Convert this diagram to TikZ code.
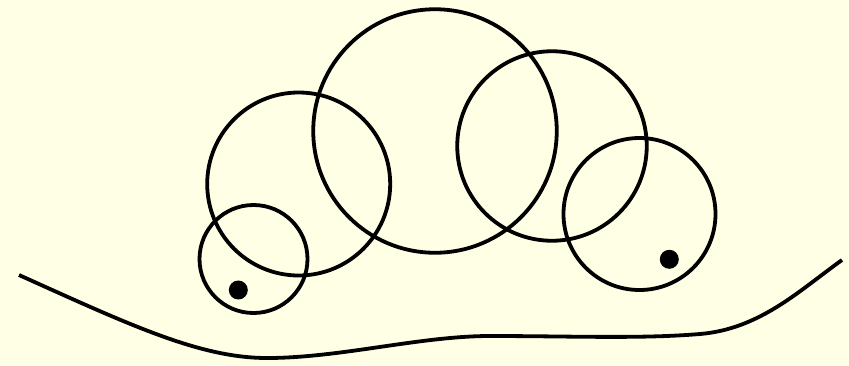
\documentclass[tikz,border=0pt]{standalone}
\definecolor{bgyellow}{HTML}{FFFFE6}
\begin{document}
\begin{tikzpicture}[x=1pt,y=-1pt,
  ring/.style={circle, draw=black, line width=3.8pt, inner sep=0pt, outer sep=0pt},
  dot/.style={circle, fill=black, inner sep=0pt, minimum size=19pt},
  ground/.style={draw=black, line width=3.8pt}]
\fill[bgyellow] (0,0) rectangle (849,365);
\useasboundingbox (0,0) rectangle (849,365);
\node[ring, minimum size=108pt] (c1) at (253.5,259) {};
\node[ring, minimum size=183pt] (c2) at (298.7,184) {};
\node[ring, minimum size=243.5pt] (c3) at (435,131) {};
\node[ring, minimum size=189.5pt] (c4) at (552,146) {};
\node[ring, minimum size=152pt] (c5) at (639.5,214) {};
\node[dot] (d1) at (238.3,290) {};
\node[dot] (d2) at (669.3,259.3) {};
\coordinate (g0) at (19,275);
\coordinate (g1) at (267,358);
\coordinate (g2) at (490,336);
\coordinate (g3) at (700,334);
\coordinate (g4) at (842,260);
\draw[ground] (g0) .. controls (130,325) and (200,358) .. (g1)
  .. controls (340,358) and (420,336) .. (g2)
  .. controls (570,336) and (640,339) .. (g3)
  .. controls (760,329) and (800,290) .. (g4);
\end{tikzpicture}
\end{document}
